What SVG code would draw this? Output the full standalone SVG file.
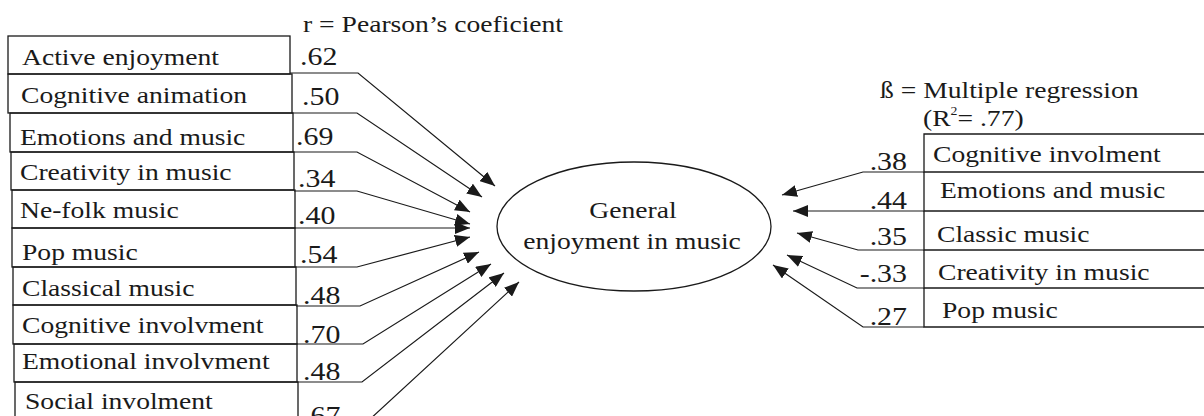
<svg xmlns="http://www.w3.org/2000/svg" width="1204" height="416" viewBox="0 0 1204 416">
<defs>
<style>
.bx{fill:none;stroke:#1a1a1a;stroke-width:1.3}
.ln{fill:none;stroke:#1a1a1a;stroke-width:1.2}
.t{font-family:'Liberation Serif','Times New Roman',serif;font-size:24px;fill:#1a1a1a}
.v{font-family:'Liberation Serif','Times New Roman',serif;font-size:26px;fill:#1a1a1a}
</style>
<marker id="ah" markerUnits="userSpaceOnUse" markerWidth="16" markerHeight="12" refX="15" refY="6" orient="auto">
<path d="M0,0 L15,6 L0,12 Z" fill="#1a1a1a"/>
</marker>
</defs>
<rect width="1204" height="416" fill="#ffffff"/>

<text class="t" transform="translate(303,32) scale(1.15,1)">r = Pearson’s coeficient</text>

<g id="left-nodes">
<g id="n-active"><rect class="bx" x="8" y="36" width="282" height="38"/><text class="t" transform="translate(22,65) scale(1.15,1)">Active enjoyment</text><text class="v" transform="translate(300,65) scale(1.15,1)">.62</text></g>
<g id="n-cogan"><rect class="bx" x="8" y="74" width="284" height="39"/><text class="t" transform="translate(21,103) scale(1.15,1)">Cognitive animation</text><text class="v" transform="translate(302,105) scale(1.15,1)">.50</text></g>
<g id="n-emo"><rect class="bx" x="10" y="113" width="283" height="39"/><text class="t" transform="translate(20,145) scale(1.15,1)">Emotions and music</text><text class="v" transform="translate(296,145) scale(1.15,1)">.69</text></g>
<g id="n-crea"><rect class="bx" x="11" y="152" width="283" height="38"/><text class="t" transform="translate(20,180) scale(1.15,1)">Creativity in music</text><text class="v" transform="translate(298,187) scale(1.15,1)">.34</text></g>
<g id="n-folk"><rect class="bx" x="12" y="190" width="283" height="38"/><text class="t" transform="translate(20,218) scale(1.15,1)">Ne-folk music</text><text class="v" transform="translate(298,224) scale(1.15,1)">.40</text></g>
<g id="n-pop"><rect class="bx" x="12" y="228" width="283" height="39"/><text class="t" transform="translate(22,260) scale(1.15,1)">Pop music</text><text class="v" transform="translate(300,263) scale(1.15,1)">.54</text></g>
<g id="n-class"><rect class="bx" x="13" y="267" width="283" height="38"/><text class="t" transform="translate(22,296) scale(1.15,1)">Classical music</text><text class="v" transform="translate(303,304) scale(1.15,1)">.48</text></g>
<g id="n-cogin"><rect class="bx" x="13" y="305" width="284" height="39"/><text class="t" transform="translate(22,333) scale(1.15,1)">Cognitive involvment</text><text class="v" transform="translate(303,343) scale(1.15,1)">.70</text></g>
<g id="n-emoin"><rect class="bx" x="14" y="344" width="283" height="38"/><text class="t" transform="translate(22,369) scale(1.15,1)">Emotional involvment</text><text class="v" transform="translate(303,380) scale(1.15,1)">.48</text></g>
<g id="n-soc"><rect class="bx" x="15" y="382" width="283" height="40"/><text class="t" transform="translate(25,409) scale(1.15,1)">Social involment</text><text class="v" transform="translate(303,424) scale(1.15,1)">.67</text></g>
</g>

<g id="center">
<ellipse class="bx" cx="634" cy="226.5" rx="137" ry="64.5"/>
<text class="t" text-anchor="middle" transform="translate(633,218) scale(1.15,1)">General</text>
<text class="t" text-anchor="middle" transform="translate(632,249) scale(1.15,1)">enjoyment in music</text>
</g>

<g id="right-title">
<text class="t" transform="translate(880,98) scale(1.15,1)">ß = Multiple regression</text>
<text class="t" transform="translate(923,126) scale(1.15,1)">(R<tspan font-size="12" dy="-11">2</tspan><tspan dy="11">= .77)</tspan></text>
</g>

<g id="right-nodes">
<g id="r-cogin"><path class="bx" d="M1210,134 H924 V172 H1210"/><text class="t" transform="translate(933,162) scale(1.15,1)">Cognitive involment</text><text class="v" text-anchor="end" transform="translate(907,170) scale(1.15,1)">.38</text></g>
<g id="r-emo"><path class="bx" d="M924,172 V211 H1210"/><text class="t" transform="translate(940,198) scale(1.15,1)">Emotions and music</text><text class="v" text-anchor="end" transform="translate(907,209) scale(1.15,1)">.44</text></g>
<g id="r-class"><path class="bx" d="M924,211 V250 H1210"/><text class="t" transform="translate(937,242) scale(1.15,1)">Classic music</text><text class="v" text-anchor="end" transform="translate(907,245) scale(1.15,1)">.35</text></g>
<g id="r-crea"><path class="bx" d="M924,250 V288 H1210"/><text class="t" transform="translate(938,280) scale(1.15,1)">Creativity in music</text><text class="v" text-anchor="end" transform="translate(907,282) scale(1.15,1)">-.33</text></g>
<g id="r-pop"><path class="bx" d="M924,288 V327 H1210"/><text class="t" transform="translate(942,318) scale(1.15,1)">Pop music</text><text class="v" text-anchor="end" transform="translate(907,325) scale(1.15,1)">.27</text></g>
</g>

<g id="connectors">
<polyline class="ln" marker-end="url(#ah)" points="290,73 358,73 495,186"/>
<polyline class="ln" marker-end="url(#ah)" points="292,113 357,113 482,197"/>
<polyline class="ln" marker-end="url(#ah)" points="293,152 357,152 470,212"/>
<polyline class="ln" marker-end="url(#ah)" points="294,191 357,191 470,224"/>
<polyline class="ln" marker-end="url(#ah)" points="295,228 470,228"/>
<polyline class="ln" marker-end="url(#ah)" points="295,267 357,267 470,237"/>
<polyline class="ln" marker-end="url(#ah)" points="296,306 360,306 479,252"/>
<polyline class="ln" marker-end="url(#ah)" points="297,344 363,344 491,264"/>
<polyline class="ln" marker-end="url(#ah)" points="297,382 362,382 504,273"/>
<polyline class="ln" marker-end="url(#ah)" points="298,421 368,421 519,282"/>
<polyline class="ln" marker-end="url(#ah)" points="924,172 863,172 782,195"/>
<polyline class="ln" marker-end="url(#ah)" points="924,211 793,211"/>
<polyline class="ln" marker-end="url(#ah)" points="924,250 858,250 797,233"/>
<polyline class="ln" marker-end="url(#ah)" points="924,288 857,288 787,255"/>
<polyline class="ln" marker-end="url(#ah)" points="924,327 863,327 773,265"/>
</g>
</svg>
